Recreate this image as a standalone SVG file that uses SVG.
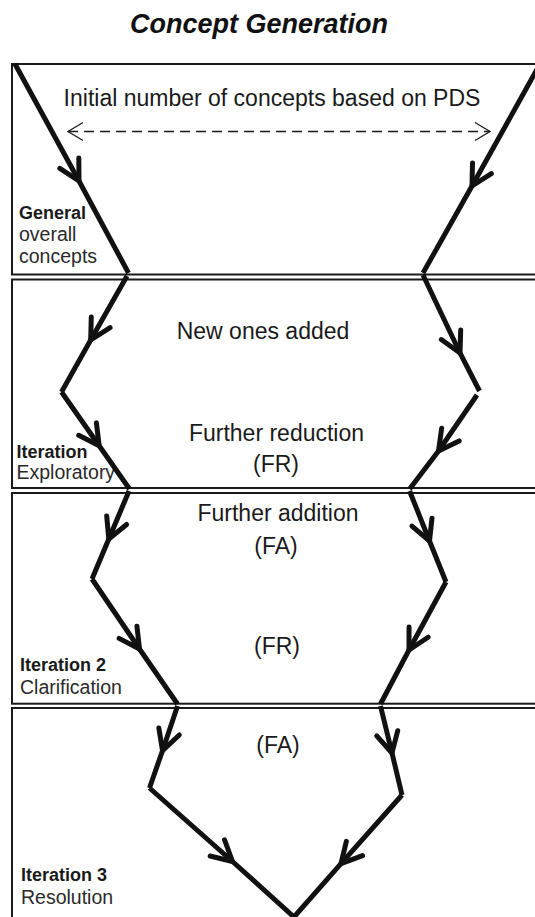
<svg xmlns="http://www.w3.org/2000/svg" width="535" height="917" viewBox="0 0 535 917">
<style>
.box{fill:#fff;stroke:#1a1a1a;stroke-width:2}
.body{font-family:"Liberation Sans",Arial,sans-serif;font-size:23px;fill:#1a1a1a;text-anchor:middle}
.lb{font-family:"Liberation Sans",Arial,sans-serif;font-size:18px;font-weight:bold;fill:#1a1a1a}
.lr{font-family:"Liberation Sans",Arial,sans-serif;font-size:19.5px;fill:#2a2a2a}
.fl{fill:none;stroke:#111;stroke-width:5;stroke-linecap:butt;stroke-linejoin:round}
.ar{fill:none;stroke:#111;stroke-width:5;marker-mid:url(#ah)}
</style>
<defs>
<marker id="ah" markerUnits="userSpaceOnUse" orient="auto" markerWidth="40" markerHeight="40" viewBox="-30 -20 40 40" refX="0" refY="0" overflow="visible">
<path d="M -20.3 -10.8 L 0 0 L -20.3 10.8" fill="none" stroke="#111" stroke-width="5" stroke-linecap="round" stroke-linejoin="round"/>
</marker>
<marker id="da" markerUnits="userSpaceOnUse" orient="auto-start-reverse" markerWidth="30" markerHeight="30" viewBox="-20 -15 30 30" refX="0" refY="0" overflow="visible">
<path d="M -15 -9 L 0 0 L -15 9" fill="none" stroke="#1a1a1a" stroke-width="1.3"/>
</marker>
</defs>
<rect width="535" height="917" fill="#fff"/>
<g id="title">
<text x="259" y="33" font-family="'Liberation Sans',Arial,sans-serif" font-size="27" font-weight="bold" font-style="italic" fill="#111" text-anchor="middle">Concept Generation</text>
</g>
<g id="stage-general">
<rect class="box" x="12" y="64" width="540" height="210.5"/>
<text class="body" x="272" y="106">Initial number of concepts based on PDS</text>
<text class="lb" x="19" y="219">General</text>
<text class="lr" x="19" y="241">overall</text>
<text class="lr" x="19" y="263">concepts</text>
</g>
<g id="stage-iteration1">
<rect class="box" x="12" y="279.5" width="540" height="208.5"/>
<text class="body" x="263" y="338.5">New ones added</text>
<text class="body" x="276.5" y="441">Further reduction</text>
<text class="body" x="276" y="472">(FR)</text>
<text class="lb" x="16.5" y="457.5">Iteration</text>
<text class="lr" x="16.5" y="479">Exploratory</text>
</g>
<g id="stage-iteration2">
<rect class="box" x="12" y="493" width="540" height="210.7"/>
<text class="body" x="278" y="521">Further addition</text>
<text class="body" x="276" y="554">(FA)</text>
<text class="body" x="277" y="654">(FR)</text>
<text class="lb" x="20" y="671">Iteration 2</text>
<text class="lr" x="20" y="694">Clarification</text>
</g>
<g id="stage-iteration3">
<rect class="box" x="12" y="708" width="540" height="230"/>
<text class="body" x="278" y="753">(FA)</text>
<text class="lb" x="21" y="881">Iteration 3</text>
<text class="lr" x="21" y="904">Resolution</text>
</g>
<g id="connectors">
<line x1="68" y1="131.5" x2="490" y2="131.5" stroke="#1a1a1a" stroke-width="1.3" stroke-dasharray="10 6" marker-start="url(#da)" marker-end="url(#da)"/>
<path class="ar" d="M 15 64 L 79 181 L 128.5 273"/>
<path class="ar" d="M 127 276 L 90.7 340 L 61.5 392"/>
<path class="ar" d="M 61.5 392 L 99.2 445.7 L 129.5 489"/>
<path class="ar" d="M 129 491 L 108.8 539 L 92 579"/>
<path class="ar" d="M 92 579 L 139.5 649 L 177.5 704"/>
<path class="ar" d="M 177.5 706 L 162.5 750.7 L 149.5 788"/>
<path class="ar" d="M 149.5 788 L 232.5 861.5 L 294 917"/>
<path class="ar" d="M 540 64 L 472 186 L 423 273"/>
<path class="ar" d="M 423 275 L 460 353 L 479.5 391"/>
<path class="ar" d="M 477 395 L 438.5 451 L 409.6 489"/>
<path class="ar" d="M 409.6 491 L 429.5 541 L 446 582"/>
<path class="ar" d="M 446 582 L 409 650 L 380.5 704"/>
<path class="ar" d="M 380.5 706 L 392 753 L 402 795"/>
<path class="ar" d="M 402 795 L 341 863.7 L 294 917"/>
</g>
</svg>
